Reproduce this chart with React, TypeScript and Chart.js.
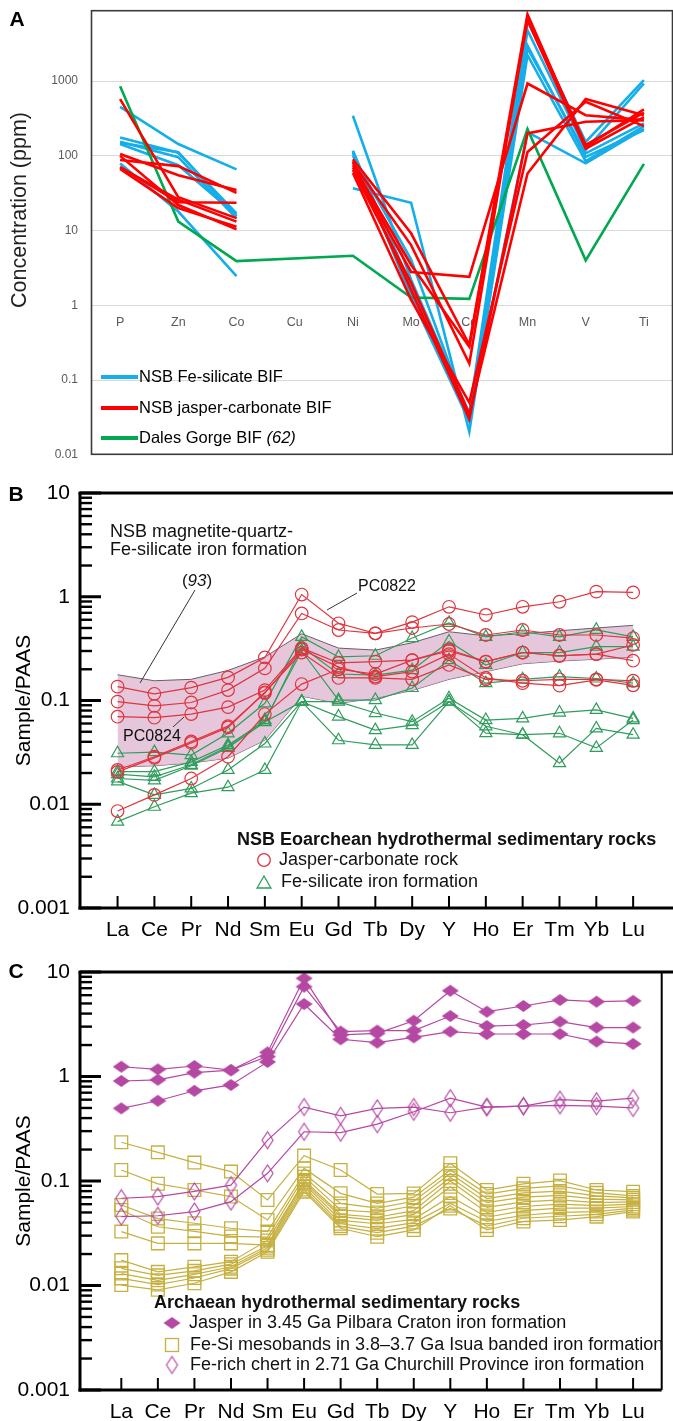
import React, { useEffect, useRef } from 'react';
import { Chart, registerables } from 'chart.js';

Chart.register(...registerables);

const FONT = "'Liberation Sans', Arial, Helvetica, sans-serif";

// ---------------- Panel A ----------------
const elementsA = ['P', 'Zn', 'Co', 'Cu', 'Ni', 'Mo', 'Cd', 'Mn', 'V', 'Ti'];
const yTicksA = [0.01, 0.1, 1, 10, 100, 1000];

const feSilicateBIF = [
  [453, 144, 66, null, 344, 2.2, 0.036, 6540, 154, 1030],
  [176, 110, 17, null, 117, 1.5, 0.03, 4800, 120, 930],
  [154, 96, 14.6, null, 109, 1.3, 0.028, 2740, 108, 272],
  [144, 75, 16, null, 100, 4.1, 0.031, 3000, 97, 221],
  [79, 18, 2.46, null, 37, 23.6, 0.0204, 2230, 85, 250],
  [150, 112, 15.5, null, 115, 1.8, 0.032, 208, 79.5, 230],
];
const jasperCarbonateBIF = [
  [575, 28, 14.7, null, 90, 9.2, 0.297, 7850, 132, 418],
  [106, 55, 35, null, 80, 6.4, 0.166, 7240, 140, 380],
  [88, 73, 32, null, 70, 2.8, 2.41, 930, 350, 301],
  [71, 24, 23.6, null, 65, 2.0, 0.035, 58, 575, 350],
  [67, 20, 11.3, null, 59, 1.18, 0.05, 113, 530, 250],
  [100, 22, 10.4, null, 85, 1.6, 0.03, 200, 286, 301],
  [70, 26, 13.2, null, 75, 3.5, 0.28, 6500, 125, 330],
];
const dalesGorgeBIF = [857, 13.2, 3.9, null, 4.6, 1.27, 1.22, 228, 4.0, 78];

// ---------------- Panels B & C ----------------
const ree = ['La', 'Ce', 'Pr', 'Nd', 'Sm', 'Eu', 'Gd', 'Tb', 'Dy', 'Y', 'Ho', 'Er', 'Tm', 'Yb', 'Lu'];
const yTicksPAAS = [0.001, 0.01, 0.1, 1, 10];

const jasperCarbonateRock = [
  [0.136, 0.116, 0.133, 0.167, 0.26, 1.05, 0.555, 0.444, 0.57, 0.8, 0.667, 0.8, 0.895, 1.12, 1.1],
  [0.0975, 0.0887, 0.0957, 0.126, 0.204, 0.69, 0.478, 0.444, 0.5, 0.546, 0.428, 0.478, 0.428, 0.428, 0.4],
  [0.0698, 0.0683, 0.074, 0.0863, 0.126, 0.32, 0.23, 0.237, 0.245, 0.31, 0.237, 0.29, 0.27, 0.28, 0.242],
  [0.0214, 0.0287, 0.0403, 0.0566, 0.118, 0.31, 0.21, 0.17, 0.19, 0.28, 0.165, 0.147, 0.139, 0.158, 0.14],
  [0.0205, 0.028, 0.039, 0.055, 0.12, 0.29, 0.165, 0.165, 0.16, 0.22, 0.16, 0.155, 0.16, 0.16, 0.155],
  [0.0086, 0.0123, 0.0177, 0.0287, 0.074, 0.144, 0.2, 0.18, 0.245, 0.3, 0.237, 0.29, 0.27, 0.28, 0.343],
];
const feSilicateIronFormation = [
  [0.031, 0.0318, 0.0298, 0.0483, 0.094, 0.41, 0.263, 0.27, 0.4, 0.56, 0.41, 0.46, 0.41, 0.48, 0.41],
  [0.0206, 0.0206, 0.0256, 0.0373, 0.0625, 0.33, 0.18, 0.176, 0.196, 0.37, 0.22, 0.29, 0.29, 0.33, 0.33],
  [0.0195, 0.0184, 0.024, 0.036, 0.065, 0.3, 0.101, 0.101, 0.132, 0.245, 0.147, 0.16, 0.17, 0.163, 0.147],
  [0.0177, 0.017, 0.0235, 0.035, 0.062, 0.0975, 0.0975, 0.0757, 0.0625, 0.105, 0.0648, 0.0672, 0.0765, 0.0813, 0.0672],
  [0.0166, 0.0123, 0.0142, 0.0214, 0.0385, 0.0975, 0.07, 0.0518, 0.0578, 0.0975, 0.0564, 0.0468, 0.0483, 0.0349, 0.0648],
  [0.0068, 0.00946, 0.0128, 0.0146, 0.0214, 0.0975, 0.0414, 0.0373, 0.0373, 0.0975, 0.0485, 0.0468, 0.0249, 0.0538, 0.0468],
];
const nsbBand93Upper = [0.177, 0.155, 0.16, 0.195, 0.263, 0.44, 0.32, 0.306, 0.36, 0.46, 0.42, 0.44, 0.47, 0.5, 0.53];
const nsbBand93Lower = [0.0229, 0.0235, 0.025, 0.0278, 0.0414, 0.11, 0.094, 0.105, 0.125, 0.16, 0.19, 0.226, 0.24, 0.25, 0.263];

const pilbaraJasper = [
  [1.24, 1.17, 1.26, 1.15, 1.7, 8.7, 2.5, 2.59, 3.42, 6.62, 4.17, 4.73, 5.4, 5.2, 5.3],
  [0.906, 0.93, 1.09, 1.15, 1.55, 7.24, 2.69, 2.75, 2.75, 3.79, 3.04, 3.11, 3.35, 2.94, 2.94],
  [0.496, 0.586, 0.73, 0.83, 1.38, 4.94, 2.27, 2.11, 2.37, 2.69, 2.55, 2.55, 2.55, 2.16, 2.05],
];
const isuaMesobands = [
  [0.235, 0.188, 0.15, 0.123, 0.0658, 0.175, 0.1275, 0.075, 0.076, 0.148, 0.082, 0.094, 0.101, 0.082, 0.079],
  [0.1275, 0.094, 0.082, 0.071, 0.0423, 0.132, 0.0762, 0.061, 0.07, 0.1275, 0.075, 0.085, 0.09, 0.077, 0.072],
  [0.0589, 0.0437, 0.0394, 0.0353, 0.0328, 0.118, 0.061, 0.055, 0.064, 0.118, 0.068, 0.077, 0.08, 0.072, 0.069],
  [0.0528, 0.0365, 0.033, 0.0295, 0.029, 0.11, 0.0528, 0.05, 0.058, 0.108, 0.062, 0.07, 0.073, 0.067, 0.066],
  [0.0328, 0.0253, 0.0253, 0.0253, 0.0244, 0.102, 0.048, 0.045, 0.052, 0.1, 0.056, 0.063, 0.066, 0.062, 0.063],
  [0.0175, 0.0135, 0.0151, 0.0169, 0.027, 0.098, 0.0456, 0.042, 0.048, 0.0881, 0.05, 0.057, 0.06, 0.058, 0.06],
  [0.0146, 0.0125, 0.0138, 0.016, 0.024, 0.094, 0.042, 0.039, 0.043, 0.071, 0.045, 0.052, 0.055, 0.055, 0.057],
  [0.013, 0.0112, 0.0128, 0.0151, 0.023, 0.088, 0.039, 0.035, 0.04, 0.061, 0.041, 0.047, 0.05, 0.051, 0.055],
  [0.0117, 0.0102, 0.0118, 0.0145, 0.022, 0.083, 0.037, 0.032, 0.037, 0.0546, 0.037, 0.044, 0.046, 0.048, 0.053],
  [0.0101, 0.0091, 0.0105, 0.0135, 0.021, 0.0791, 0.0353, 0.0293, 0.034, 0.058, 0.034, 0.041, 0.0423, 0.0456, 0.051],
];
const churchillChert = [
  [0.0684, 0.071, 0.0795, 0.0913, 0.246, 0.51, 0.42, 0.496, 0.51, 0.45, 0.51, 0.52, 0.53, 0.52, 0.5],
  [0.0457, 0.0465, 0.051, 0.0635, 0.1185, 0.296, 0.29, 0.35, 0.46, 0.62, 0.51, 0.52, 0.6, 0.58, 0.62],
];

// ---------------- colours ----------------
const BLUE_A = '#14AEEA';
const RED_A = '#FF0000';
const GREEN_A = '#00A84F';
const RED_B = '#E0343E';
const GREEN_B = '#2F9D5C';
const BAND_FILL = 'rgba(226, 188, 212, 0.85)';
const BAND_LINE = '#6E5A68';
const MAGENTA = '#B548A3';
const OLIVE = '#C6B040';

const pts = (arr: number[]) => arr.map((v, i) => ({ x: i, y: v }));
const fmtLog = (v: any) => String(Number(v));

function line(ctx: CanvasRenderingContext2D, x1: number, y1: number, x2: number, y2: number) {
  ctx.beginPath();
  ctx.moveTo(x1, y1);
  ctx.lineTo(x2, y2);
  ctx.stroke();
}

function diamondImage(w: number, h: number, fill: string | null, stroke: string | null, lw = 1.2) {
  const c = document.createElement('canvas');
  const pad = 2;
  c.width = w + pad * 2;
  c.height = h + pad * 2;
  const g = c.getContext('2d')!;
  g.beginPath();
  g.moveTo(c.width / 2, pad);
  g.lineTo(c.width - pad, c.height / 2);
  g.lineTo(c.width / 2, c.height - pad);
  g.lineTo(pad, c.height / 2);
  g.closePath();
  if (fill) {
    g.fillStyle = fill;
    g.fill();
  }
  if (stroke) {
    g.strokeStyle = stroke;
    g.lineWidth = lw;
    g.stroke();
  }
  return c;
}

// ---------------- Panel A config (canvas placed at top -10) ----------------
const A_OFF = 10;
function buildA(): any {
  const datasets: any[] = [];
  feSilicateBIF.forEach((d) =>
    datasets.push({ data: d, borderColor: BLUE_A, borderWidth: 2.6, pointRadius: 0, order: 3 })
  );
  datasets.push({ data: dalesGorgeBIF, borderColor: GREEN_A, borderWidth: 2.6, pointRadius: 0, spanGaps: true, order: 2 });
  jasperCarbonateBIF.forEach((d) =>
    datasets.push({ data: d, borderColor: RED_A, borderWidth: 2.6, pointRadius: 0, order: 1 })
  );

  const decor = {
    id: 'decorA',
    afterDraw(chart: any) {
      const { ctx, chartArea: ca } = chart;
      ctx.save();
      // frame
      ctx.strokeStyle = '#3a3a3a';
      ctx.lineWidth = 1.6;
      ctx.strokeRect(ca.left + 0.5, ca.top + 0.5, ca.right - ca.left - 1, ca.bottom - ca.top - 1);
      // panel letter
      ctx.fillStyle = '#000';
      ctx.font = `bold 21px ${FONT}`;
      ctx.textAlign = 'center';
      ctx.textBaseline = 'middle';
      ctx.fillText('A', 17, 20 + A_OFF);
      // y title
      ctx.save();
      ctx.translate(20, 210 + A_OFF);
      ctx.rotate(-Math.PI / 2);
      ctx.font = `21.5px ${FONT}`;
      ctx.fillStyle = '#222';
      ctx.fillText('Concentration (ppm)', 0, 0);
      ctx.restore();
      // legend
      const items = [
        { c: BLUE_A, y: 377, t: 'NSB Fe-silicate BIF', it: '' },
        { c: RED_A, y: 408, t: 'NSB jasper-carbonate BIF', it: '' },
        { c: GREEN_A, y: 438, t: 'Dales Gorge BIF ', it: '(62)' },
      ];
      ctx.textAlign = 'left';
      items.forEach((it) => {
        const y = it.y + A_OFF;
        ctx.strokeStyle = it.c;
        ctx.lineWidth = 4;
        line(ctx, 101, y, 138, y);
        ctx.font = `16.5px ${FONT}`;
        ctx.fillStyle = '#000';
        ctx.fillText(it.t, 139, y);
        if (it.it) {
          const w = ctx.measureText(it.t).width;
          ctx.font = `italic 16.5px ${FONT}`;
          ctx.fillText(it.it, 139 + w, y);
        }
      });
      ctx.restore();
    },
  };

  return {
    type: 'line',
    data: { labels: elementsA, datasets },
    options: {
      animation: false,
      responsive: false,
      maintainAspectRatio: false,
      devicePixelRatio: 1,
      layout: { padding: { top: 0, bottom: 0, left: 0, right: 0 } },
      plugins: { legend: { display: false }, tooltip: { enabled: false } },
      elements: { line: { tension: 0 } },
      scales: {
        x: {
          type: 'category',
          offset: true,
          position: { y: 1 },
          grid: { display: false, drawTicks: false },
          border: { display: false },
          ticks: { autoSkip: false, maxRotation: 0, padding: 10, color: '#595959', font: { family: FONT, size: 12.5 } },
        },
        y: {
          type: 'logarithmic',
          min: 0.01,
          max: 8900,
          afterFit: (s: any) => {
            s.width = 91;
          },
          afterBuildTicks: (s: any) => {
            s.ticks = yTicksA.map((v) => ({ value: v }));
          },
          ticks: { padding: 13, color: '#595959', font: { family: FONT, size: 12 }, callback: fmtLog },
          grid: { color: '#D9D9D9', lineWidth: 1, drawTicks: false },
          border: { display: false },
        },
      },
    },
    plugins: [decor],
  };
}

// ---------------- shared B/C frame ----------------
function rockFrame(rightBorder: boolean, letter: string, letterY: number, extra: (ctx: CanvasRenderingContext2D, chart: any) => void) {
  return {
    id: 'rockFrame' + letter,
    afterDraw(chart: any) {
      const { ctx, chartArea: ca, scales } = chart;
      const xs = scales.x;
      const ys = scales.y;
      ctx.save();
      ctx.strokeStyle = '#000';
      ctx.lineCap = 'butt';
      // y ticks
      for (let k = -3; k <= 1; k++) {
        const d = Math.pow(10, k);
        const py = ys.getPixelForValue(d);
        ctx.lineWidth = 3;
        line(ctx, ca.left, py, ca.left + 21, py);
        if (k < 1) {
          for (let m = 2; m <= 9; m++) {
            const pm = ys.getPixelForValue(m * d);
            ctx.lineWidth = 2.4;
            line(ctx, ca.left, pm, ca.left + 12, pm);
          }
        }
      }
      // x ticks
      ctx.lineWidth = 2;
      ree.forEach((_, i) => {
        const px = xs.getPixelForValue(i);
        line(ctx, px, ca.bottom, px, ca.bottom - 12);
      });
      // frame
      ctx.lineWidth = 3;
      line(ctx, ca.left - 1.5, ca.top, chart.width, ca.top);
      line(ctx, ca.left, ca.top, ca.left, ca.bottom + 1.5);
      line(ctx, ca.left - 1.5, ca.bottom, rightBorder ? ca.right - 1 : chart.width, ca.bottom);
      if (rightBorder) {
        ctx.lineWidth = 2;
        line(ctx, ca.right - 1, ca.top, ca.right - 1, ca.bottom);
      }
      // letter
      ctx.fillStyle = '#000';
      ctx.font = `bold 21px ${FONT}`;
      ctx.textAlign = 'center';
      ctx.textBaseline = 'middle';
      ctx.fillText(letter, 16, letterY);
      extra(ctx, chart);
      ctx.restore();
    },
  };
}

function rockScales(xMin: number, xMax: number, xHeight: number): any {
  return {
    x: {
      type: 'linear',
      min: xMin,
      max: xMax,
      afterFit: (s: any) => {
        s.height = xHeight;
      },
      afterBuildTicks: (s: any) => {
        s.ticks = ree.map((_, i) => ({ value: i }));
      },
      ticks: {
        autoSkip: false,
        maxRotation: 0,
        padding: 9.4,
        color: '#000',
        font: { family: FONT, size: 21 },
        callback: (v: any) => ree[Number(v)] ?? '',
      },
      grid: { display: false, drawTicks: false },
      border: { display: false },
    },
    y: {
      type: 'logarithmic',
      min: 0.001,
      max: 10,
      afterFit: (s: any) => {
        s.width = 80;
      },
      afterBuildTicks: (s: any) => {
        s.ticks = yTicksPAAS.map((v) => ({ value: v }));
      },
      ticks: { padding: 10, color: '#000', font: { family: FONT, size: 21 }, callback: fmtLog },
      grid: { display: false, drawTicks: false },
      border: { display: false },
      title: {
        display: true,
        text: 'Sample/PAAS',
        color: '#000',
        font: { family: FONT, size: 21 },
        padding: { top: 12, bottom: 0 },
      },
    },
  };
}

function drawTriangle(ctx: CanvasRenderingContext2D, x: number, y: number, r: number) {
  ctx.beginPath();
  ctx.moveTo(x, y - r);
  ctx.lineTo(x + 0.866 * r, y + 0.5 * r);
  ctx.lineTo(x - 0.866 * r, y + 0.5 * r);
  ctx.closePath();
  ctx.stroke();
}

// ---------------- Panel B config (canvas top 460) ----------------
function buildB(): any {
  const datasets: any[] = [
    {
      data: pts(nsbBand93Upper),
      borderColor: BAND_LINE,
      borderWidth: 1,
      pointRadius: 0,
      fill: '+1',
      backgroundColor: BAND_FILL,
      order: 20,
    },
    { data: pts(nsbBand93Lower), borderColor: BAND_LINE, borderWidth: 1, pointRadius: 0, fill: false, order: 20 },
  ];
  feSilicateIronFormation.forEach((d) =>
    datasets.push({
      data: pts(d),
      borderColor: GREEN_B,
      borderWidth: 1.2,
      pointStyle: 'triangle',
      pointRadius: 7,
      pointBorderColor: GREEN_B,
      pointBorderWidth: 1.2,
      pointBackgroundColor: 'rgba(0,0,0,0)',
      order: 2,
    })
  );
  jasperCarbonateRock.forEach((d) =>
    datasets.push({
      data: pts(d),
      borderColor: RED_B,
      borderWidth: 1.2,
      pointStyle: 'circle',
      pointRadius: 6.3,
      pointBorderColor: RED_B,
      pointBorderWidth: 1.2,
      pointBackgroundColor: 'rgba(0,0,0,0)',
      order: 1,
    })
  );

  const extra = (ctx: CanvasRenderingContext2D) => {
    ctx.fillStyle = '#111';
    ctx.textAlign = 'left';
    ctx.textBaseline = 'middle';
    ctx.font = `18px ${FONT}`;
    ctx.fillText('NSB magnetite-quartz-', 110, 72);
    ctx.fillText('Fe-silicate iron formation', 110, 90);
    // (93)
    ctx.font = `17px ${FONT}`;
    const wOpen = ctx.measureText('(').width;
    ctx.font = `italic 17px ${FONT}`;
    const w93 = ctx.measureText('93').width;
    const total = wOpen * 2 + w93;
    const x0 = 197 - total / 2;
    ctx.font = `17px ${FONT}`;
    ctx.fillText('(', x0, 121);
    ctx.font = `italic 17px ${FONT}`;
    ctx.fillText('93', x0 + wOpen, 121);
    ctx.font = `17px ${FONT}`;
    ctx.fillText(')', x0 + wOpen + w93, 121);
    ctx.strokeStyle = '#333';
    ctx.lineWidth = 1;
    line(ctx, 195, 130, 140, 223);
    // PC labels
    ctx.font = `16px ${FONT}`;
    ctx.fillText('PC0822', 358, 127);
    line(ctx, 357, 133, 327, 150);
    ctx.fillText('PC0824', 123, 277);
    line(ctx, 173, 267, 184, 257);
    // legend
    ctx.font = `bold 18px ${FONT}`;
    ctx.fillStyle = '#111';
    ctx.fillText('NSB Eoarchean hydrothermal sedimentary rocks', 237, 380);
    ctx.font = `18px ${FONT}`;
    ctx.fillText('Jasper-carbonate rock', 279, 400);
    ctx.fillText('Fe-silicate iron formation', 281, 422);
    ctx.strokeStyle = RED_B;
    ctx.lineWidth = 1.3;
    ctx.beginPath();
    ctx.arc(264, 400, 6.3, 0, Math.PI * 2);
    ctx.stroke();
    ctx.strokeStyle = GREEN_B;
    drawTriangle(ctx, 264, 424, 8);
  };

  return {
    type: 'line',
    data: { datasets },
    options: {
      animation: false,
      responsive: false,
      maintainAspectRatio: false,
      devicePixelRatio: 1,
      layout: { padding: { top: 33, bottom: 0, left: 0, right: 0 } },
      plugins: { legend: { display: false }, tooltip: { enabled: false } },
      elements: { line: { tension: 0 } },
      scales: rockScales(-1.02, 14.86, 41),
    },
    plugins: [rockFrame(false, 'B', 35, extra)],
  };
}

// ---------------- Panel C config (canvas top 949) ----------------
const C_TOP = 949;
function buildC(): any {
  const filledDiamond = diamondImage(17, 12, MAGENTA, null);
  const openDiamond = diamondImage(11, 17, null, MAGENTA, 1.2);
  const datasets: any[] = [];
  isuaMesobands.forEach((d) =>
    datasets.push({
      data: pts(d),
      borderColor: OLIVE,
      borderWidth: 1.2,
      pointStyle: 'rect',
      pointRadius: 9,
      pointBorderColor: OLIVE,
      pointBorderWidth: 1.3,
      pointBackgroundColor: 'rgba(0,0,0,0)',
      order: 3,
    })
  );
  churchillChert.forEach((d) =>
    datasets.push({
      data: pts(d),
      borderColor: MAGENTA,
      borderWidth: 1.2,
      pointStyle: openDiamond,
      pointRadius: 6,
      order: 2,
    })
  );
  pilbaraJasper.forEach((d) =>
    datasets.push({
      data: pts(d),
      borderColor: MAGENTA,
      borderWidth: 1.2,
      pointStyle: filledDiamond,
      pointRadius: 6,
      order: 1,
    })
  );

  const extra = (ctx: CanvasRenderingContext2D) => {
    const o = -C_TOP;
    ctx.fillStyle = '#111';
    ctx.textAlign = 'left';
    ctx.textBaseline = 'middle';
    ctx.font = `bold 18px ${FONT}`;
    ctx.fillText('Archaean hydrothermal sedimentary rocks', 154, 1303 + o);
    ctx.font = `18px ${FONT}`;
    ctx.fillText('Jasper in 3.45 Ga Pilbara Craton iron formation', 189, 1323 + o);
    ctx.fillText('Fe-Si mesobands in 3.8\u20133.7 Ga Isua banded iron formation', 190, 1345 + o);
    ctx.fillText('Fe-rich chert in 2.71 Ga Churchill Province iron formation', 190, 1365 + o);
    ctx.drawImage(filledDiamond, 172 - filledDiamond.width / 2, 1323 + o - filledDiamond.height / 2);
    ctx.strokeStyle = OLIVE;
    ctx.lineWidth = 1.3;
    ctx.strokeRect(172 - 6.5, 1345 + o - 6.5, 13, 13);
    ctx.drawImage(openDiamond, 172 - openDiamond.width / 2, 1365 + o - openDiamond.height / 2);
  };

  return {
    type: 'line',
    data: { datasets },
    options: {
      animation: false,
      responsive: false,
      maintainAspectRatio: false,
      devicePixelRatio: 1,
      layout: { padding: { top: 23, bottom: 0, left: 0, right: 0 } },
      plugins: { legend: { display: false }, tooltip: { enabled: false } },
      elements: { line: { tension: 0 } },
      scales: rockScales(-1.13, 14.81, 31),
    },
    plugins: [rockFrame(true, 'C', 972 - C_TOP, extra)],
  };
}

function ChartCanvas({ top, height, build }: { top: number; height: number; build: () => any }) {
  const ref = useRef<HTMLCanvasElement | null>(null);
  useEffect(() => {
    if (!ref.current) return;
    const chart = new Chart(ref.current, build());
    return () => chart.destroy();
  }, []);
  return (
    <canvas
      ref={ref}
      width={673}
      height={height}
      style={{ position: 'absolute', left: 0, top, width: 673, height, display: 'block' }}
    />
  );
}

export default function App() {
  return (
    <div style={{ position: 'absolute', left: 0, top: 0, width: 673, height: 1421, background: '#fff', overflow: 'hidden' }}>
      <ChartCanvas top={-A_OFF} height={485} build={buildA} />
      <ChartCanvas top={460} height={489} build={buildB} />
      <ChartCanvas top={C_TOP} height={1421 - C_TOP} build={buildC} />
    </div>
  );
}
